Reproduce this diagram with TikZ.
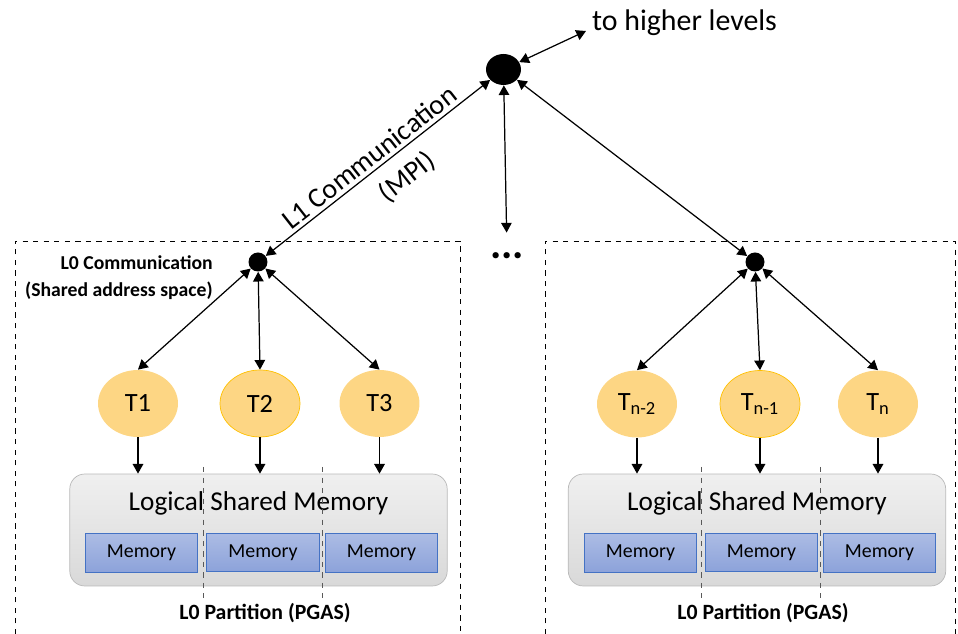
\documentclass[tikz,border=0pt]{standalone}
\usepackage{fontspec}
\setmainfont{Carlito}
\usetikzlibrary{arrows.meta, positioning, shapes.geometric}
\definecolor{threadfill}{RGB}{253,214,132}
\definecolor{threadedge}{RGB}{255,192,0}
\definecolor{memtop}{RGB}{172,188,228}
\definecolor{membot}{RGB}{140,162,218}
\definecolor{memedge}{RGB}{68,114,196}
\tikzset{
  link/.style={line width=0.7pt, {Triangle[length=5.5pt,width=6pt]}-{Triangle[length=5.5pt,width=6pt]}},
  feed/.style={line width=0.7pt, -{Triangle[length=5.5pt,width=6pt]}},
  thread/.style={ellipse, fill=threadfill, minimum width=1.6cm, minimum height=1.34cm, inner sep=0pt, font=\fontsize{15}{18}\selectfont},
  hub/.style={circle, fill=black, minimum size=0.38cm, inner sep=0pt},
  shared/.style={rounded corners=0.3cm, draw=gray!55, top color=gray!12, bottom color=gray!30, minimum width=7.55cm, minimum height=2.24cm},
  memblock/.style={draw=memedge, top color=memtop, bottom color=membot, minimum width=2.25cm, minimum height=0.77cm, inner sep=0pt, font=\fontsize{11.3}{13}\selectfont},
  region/.style={dashed, line width=0.5pt},
  split/.style={dashed, gray!70!black, line width=0.5pt},
  caption/.style={font=\bfseries\fontsize{12.4}{15}\selectfont}
}
\begin{document}
\begin{tikzpicture}[x=0.02cm, y=-0.02cm]
    \useasboundingbox (0,0) rectangle (958,634);
    \draw[region] (15,634) -- (15,241) -- (460,241) -- (460,634);
    \draw[region] (545,634) -- (545,241) -- (955,241) -- (955,634);

    \node[ellipse, fill=black, minimum width=0.7cm, minimum height=0.62cm, inner sep=0pt] (top) at (503.5,69.5) {};
    \node[anchor=base west, font=\fontsize{17}{20}\selectfont] (higher) at (586,31) {to higher levels};
    \node[inner sep=0pt, font=\bfseries\fontsize{24}{26}\selectfont] (dots) at (507,256) {...};
    \node[hub] (hubL) at (258,262) {};
    \node[hub] (hubR) at (755,262) {};
    \node[anchor=east, align=right, inner sep=0pt, font=\bfseries\fontsize{11.2}{15.3}\selectfont] (l0com) at (213,278) {L0 Communication\\(Shared address space)};

    \draw[link] (top) -- (higher.base west);
    \draw[link, shorten >=0.4cm] (top) -- (dots.north);
    \draw[link] (hubL) -- (top) node[midway, sloped, above, inner sep=0pt, yshift=2pt, font=\fontsize{16}{19}\selectfont] {L1 Communication} node[pos=0.56, sloped, below, inner sep=0pt, yshift=-7pt, font=\fontsize{16}{19}\selectfont] {(MPI)};
    \draw[link] (top) -- (hubR);

    \node[shared] (sharedL) at (258.5,530) {};
    \node[shared] (sharedR) at (757,530) {};
    \node[font=\fontsize{15.5}{18}\selectfont] (lsmL) at (258.5,503) {Logical Shared Memory};
    \node[font=\fontsize{15.5}{18}\selectfont] (lsmR) at (757,503) {Logical Shared Memory};

    \node[memblock] (m1) at (141.5,553) {Memory};
    \node[memblock] (m2) at (263,552.5) {Memory};
    \node[memblock] (m3) at (381.5,553) {Memory};
    \node[memblock] (m4) at (640.5,553) {Memory};
    \node[memblock] (m5) at (761.5,552.5) {Memory};
    \node[memblock] (m6) at (879.5,553) {Memory};

    \draw[split] (203,467) -- (203,598);
    \draw[split] (322,467) -- (322,598);
    \draw[split] (701,467) -- (701,598);
    \draw[split] (820,467) -- (820,598);

    \node[thread] (t1) at (138,403.5) {T1};
    \node[thread, draw=threadedge] (t2) at (260,403.5) {T2};
    \node[thread] (t3) at (379.5,403.5) {T3};
    \node[thread] (t4) at (637,404) {T\textsubscript{n-2}};
    \node[thread, draw=threadedge] (t5) at (760,404) {T\textsubscript{n-1}};
    \node[thread] (t6) at (878,404) {T\textsubscript{n}};

    \draw[link] (hubL) -- (t1.north);
    \draw[link] (hubL) -- (t2.north);
    \draw[link] (hubL) -- (t3.north);
    \draw[link] (hubR) -- (t4.north);
    \draw[link] (hubR) -- (t5.north);
    \draw[link] (hubR) -- (t6.north);

    \draw[feed] (t1.south) -- (t1.south |- sharedL.north);
    \draw[feed] (t2.south) -- (t2.south |- sharedL.north);
    \draw[feed] (t3.south) -- (t3.south |- sharedL.north);
    \draw[feed] (t4.south) -- (t4.south |- sharedR.north);
    \draw[feed] (t5.south) -- (t5.south |- sharedR.north);
    \draw[feed] (t6.south) -- (t6.south |- sharedR.north);

    \node[caption] (partL) at (265,613) {L0 Partition (PGAS)};
    \node[caption] (partR) at (763,613) {L0 Partition (PGAS)};
\end{tikzpicture}
\end{document}
